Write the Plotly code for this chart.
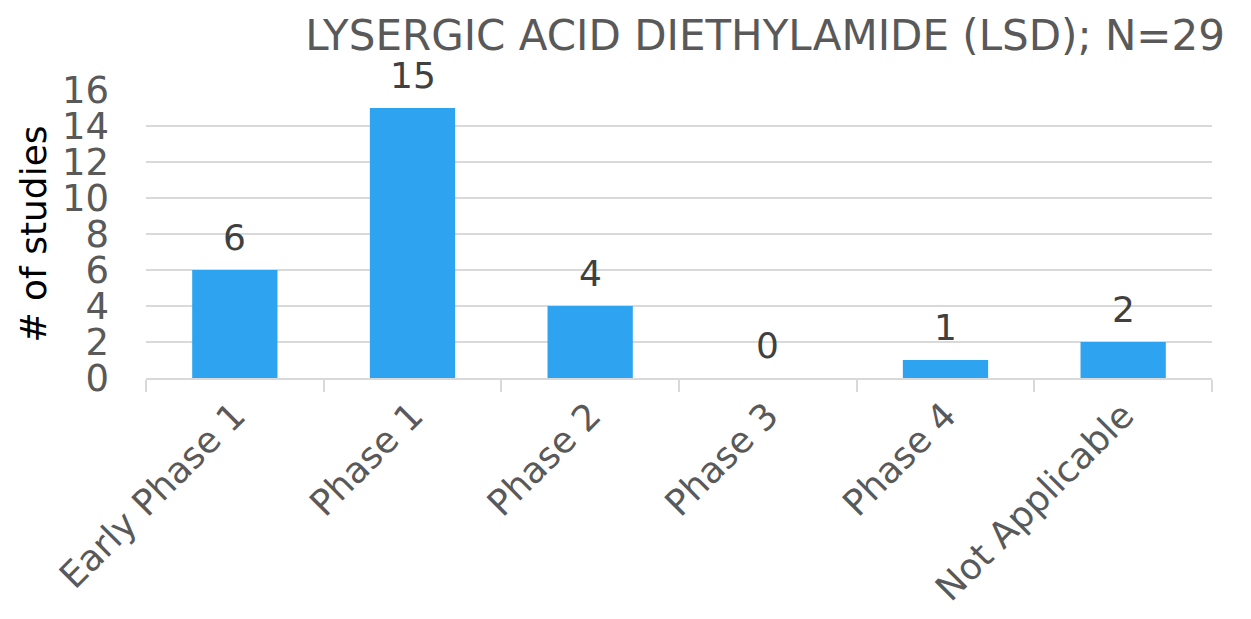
import plotly.graph_objects as go

categories = ["Early Phase 1", "Phase 1", "Phase 2", "Phase 3", "Phase 4", "Not Applicable"]
values = [6, 15, 4, 0, 1, 2]
y_ticks = [0, 2, 4, 6, 8, 10, 12, 14, 16]
title_text = "LYSERGIC ACID DIETHYLAMIDE (LSD); N=29"

FONT = "DejaVu Sans"
TXT = "#595959"

fig = go.Figure(go.Bar(
    x=categories, y=values,
    marker=dict(color="#2EA3F0", line=dict(width=0)),
    cliponaxis=False, width=0.48,
))

for c, v in zip(categories, values):
    fig.add_annotation(x=c, y=v, text=str(v), showarrow=False,
                       yanchor="middle", yshift=33,
                       font=dict(family=FONT, size=36, color="#404040"))

fig.update_layout(
    width=1251, height=619,
    margin=dict(l=138, r=47, t=82, b=249, autoexpand=False),
    plot_bgcolor="white", paper_bgcolor="white",
    showlegend=False,
    font=dict(family=FONT, color=TXT),
    title=dict(text=title_text, x=1217/1251, xanchor="right", xref="container",
               y=1 - 27/619, yanchor="middle", yref="container",
               font=dict(family=FONT, size=42, color=TXT)),
)
fig.update_xaxes(
    type="category", tickangle=-45, tickfont=dict(family=FONT, size=36, color=TXT),
    showline=True, linecolor="#D9D9D9", linewidth=2,
    ticks="outside", tickson="boundaries", ticklen=12, tickcolor="#D9D9D9", tickwidth=2,
    showgrid=False, automargin=False,
)
fig.update_yaxes(
    range=[0, 16], tickvals=y_ticks, tickfont=dict(family=FONT, size=37, color=TXT),
    showgrid=True, gridcolor="#D9D9D9", gridwidth=1.5, zeroline=False,
    ticks="", ticklabelstandoff=36, automargin=False,
    title=dict(text="# of studies", font=dict(family=FONT, size=36, color="#000000"), standoff=4),
)
fig.write_html("out.html")
